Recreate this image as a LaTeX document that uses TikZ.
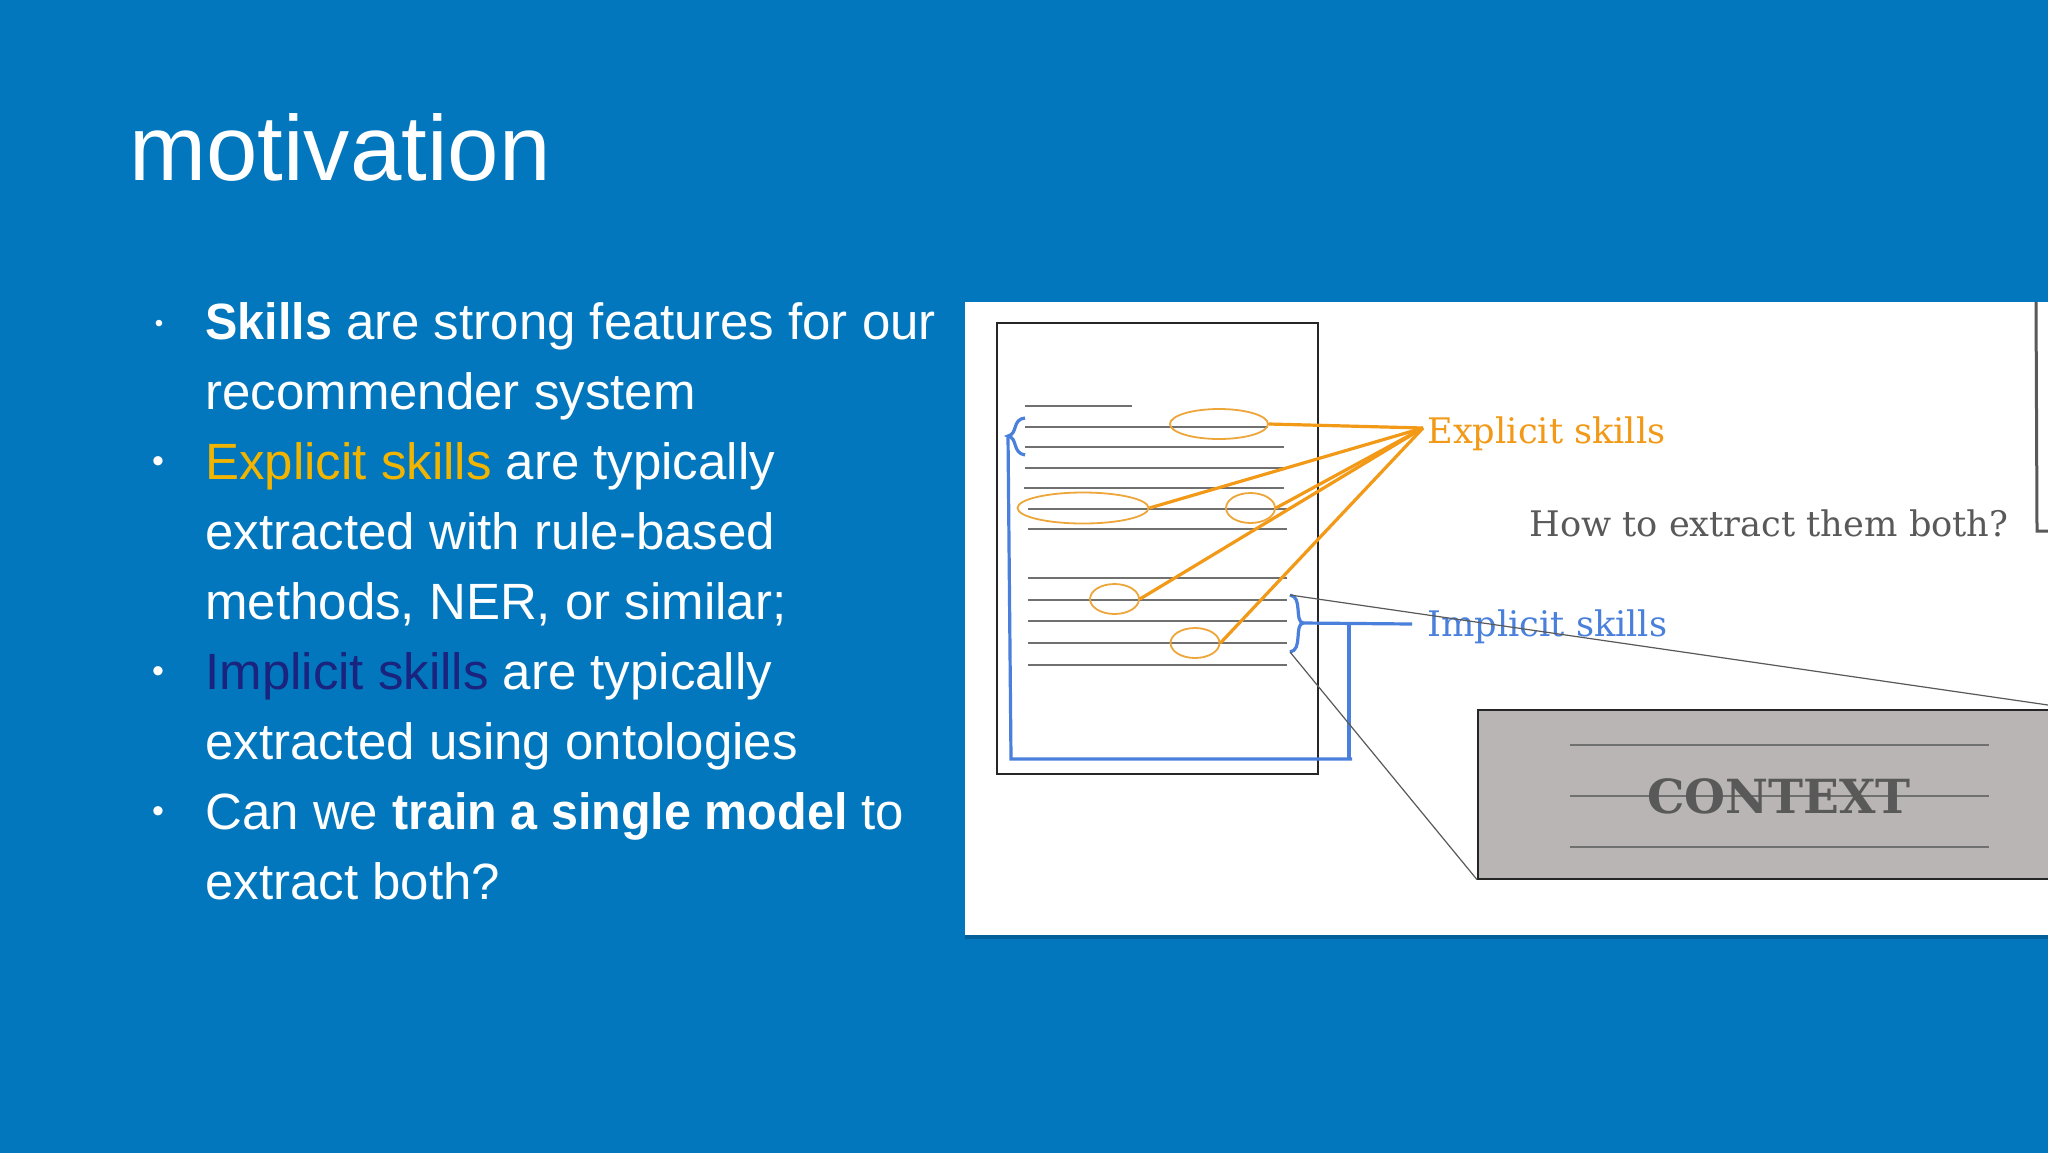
\documentclass[tikz,border=0pt]{standalone}
\usepackage{fontspec}
\setmainfont[BoldFeatures={FakeStretch=0.95}]{Liberation Sans}
\newfontfamily\slabfont{DejaVu Serif}
\usepackage{tikz}
\usetikzlibrary{arrows,shapes}
\definecolor{slidebg}{HTML}{0277BD}
\definecolor{slideshade}{HTML}{01609A}
\definecolor{expl}{HTML}{F29A17}
\definecolor{ringcol}{HTML}{EDA63A}
\definecolor{impl}{HTML}{4A80DC}
\definecolor{explword}{HTML}{F1B400}
\definecolor{implword}{HTML}{1A237E}
\definecolor{inkgrey}{HTML}{595959}
\definecolor{rulegrey}{HTML}{707070}
\definecolor{boxgrey}{HTML}{B9B5B4}
\tikzstyle{title} = [anchor=base west,inner sep=0pt,text=white,font=\fontsize{46.2}{46.2}\selectfont]
\tikzstyle{bodyline} = [anchor=base west,inner sep=0pt,text=white,font=\fontsize{25.5}{25.5}\selectfont]
\tikzstyle{bullet} = [anchor=center,inner sep=0pt,text=white,font=\fontsize{17}{17}\selectfont]
\tikzstyle{textline} = [draw=rulegrey,line width=1pt]
\tikzstyle{skillring} = [ellipse,draw=ringcol,line width=0.9pt,inner sep=0pt]
\tikzstyle{explarrow} = [draw=expl,line width=1.6pt]
\tikzstyle{implarrow} = [draw=impl,line width=1.6pt]
\tikzstyle{zoomline} = [draw=inkgrey,line width=0.6pt]
\tikzstyle{slab} = [anchor=base west,inner sep=0pt,font=\slabfont\fontsize{17.6}{17.6}\selectfont]

\begin{document}
\begin{tikzpicture}[x=0.5pt,y=-0.5pt]
   \useasboundingbox (0,0) rectangle (2048,1152);
   \fill[slidebg] (-6,-6) rectangle (2054,1158);
   \fill[slideshade] (965,305) rectangle (2048,939);
   \fill[white] (965,302) rectangle (2048,935);
   % left column
   \node[title] (heading) at (129,180) {motivation};
   \foreach \name/\ypos/\txt in {a/339/{\textbf{Skills} are strong features for our},
        b/409/{recommender system},
        c/479/{\textcolor{explword}{Explicit skills} are typically},
        d/549/{extracted with rule-based},
        e/619/{methods, NER, or similar;},
        f/689/{\textcolor{implword}{Implicit skills} are typically},
        g/759/{extracted using ontologies},
        h/829/{Can we \textbf{train a single model} to},
        i/899/{extract both?}}
        \node[bodyline] (line\name) at (205,\ypos) {\txt};
   \node[bullet,font=\fontsize{12}{12}\selectfont] (dota) at (159,326) {•};
   \foreach \name/\ypos in {c/465,f/675,h/815}
        \node[bullet] (dot\name) at (158,\ypos) {•};
   % the page
   \node[draw=black!85,line width=1pt,minimum width=160.5pt,minimum height=225.5pt,inner sep=0pt] (page) at (1157.5,548.5) {};
   \foreach \xa/\xb/\ypos in {1025/1132/406, 1025/1268/427, 1025/1284/447, 1025/1284/468, 1024/1284/488,
        1028/1287/509, 1028/1287/529, 1028/1287/578, 1028/1287/600, 1028/1287/621, 1028/1287/643, 1028/1287/665}
        \draw[textline] (\xa,\ypos) -- (\xb,\ypos);
   \foreach \name/\pos/\wid/\hei in {r1/{(1219,424)}/98/30, r2/{(1083,508)}/131/31, r3/{(1250.5,508)}/49/30, r4/{(1114.5,599)}/49/30, r5/{(1195,643)}/49/30}
        \node[skillring,minimum width=\wid*0.5pt,minimum height=\hei*0.5pt] (\name) at \pos {};
   % explicit side
   \coordinate (hub) at (1423,428);
   \node[slab,text=expl] (explicit) at (1427,443) {Explicit skills};
   \foreach \name in {r1,r2,r3,r4,r5}
        \path[explarrow] (\name.east) -- (hub);
   % implicit side
   \coordinate (tipl) at (1008,436);
   \coordinate (tipr) at (1303,623);
   \coordinate (corner) at (1011,759);
   \coordinate (cornerb) at (1352,759);
   \coordinate (join) at (1349,623);
   \coordinate (stub) at (1412,624);
   \coordinate (bracetop) at (1290,595);
   \coordinate (bracebot) at (1290,652);
   \node[slab,text=impl] (implicit) at (1427,636) {Implicit skills};
   \path[implarrow] (1025,418) .. controls (1012,419) and (1018,434) .. (tipl) .. controls (1018,438) and (1012,453) .. (1025,455);
   \path[implarrow] (bracetop) .. controls (1303,597) and (1294,621) .. (tipr) .. controls (1294,625) and (1303,650) .. (bracebot);
   \path[implarrow] (tipl) -- (corner) -- (cornerb);
   \path[implarrow] (join) -- (1349,759);
   \path[implarrow] (tipr) -- (stub);
   % zoomed context
   \node[fill=boxgrey,draw=black!85,line width=0.8pt,minimum width=290pt,minimum height=84.5pt,inner sep=0pt,anchor=north west] (ctxbox) at (1477,709) {};
   \foreach \ypos in {745,796,847}
        \draw[draw=rulegrey,line width=0.7pt] (1570,\ypos) -- (1989,\ypos);
   \node[slab,text=inkgrey,font=\slabfont\bfseries\fontsize{23.5}{23.5}\selectfont] (ctxword) at (1647,813) {CONTEXT};
   \path[zoomline] (bracetop) -- (2048,705);
   \path[zoomline] (bracebot) -- (ctxbox.south west);
   \node[slab,text=inkgrey] (question) at (1529,536) {How to extract them both?};
   \draw[draw=inkgrey,line width=1.5pt] (2036,302) -- (2037,531) -- (2048,531);
\end{tikzpicture}
\end{document}
